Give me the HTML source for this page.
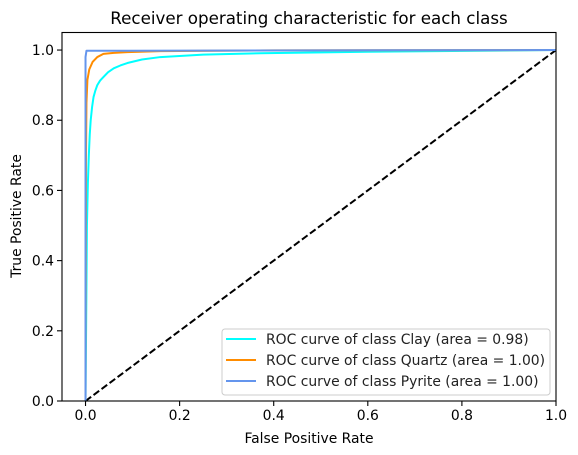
<!DOCTYPE html>
<html><head><meta charset="utf-8"><style>
body{margin:0;background:#fff;}
svg{display:block;font-family:"DejaVu Sans","Liberation Sans",sans-serif;}
</style></head><body>
<svg id="chart" width="578" height="455">
<rect width="578" height="455" fill="#fff"/>
<g id="plot"></g>
<text x="309" y="24" font-size="16.7" text-anchor="middle">Receiver operating characteristic for each class</text>
<text x="309" y="443" font-size="13.9" text-anchor="middle">False Positive Rate</text>
<text x="21" y="216" font-size="13.9" text-anchor="middle" transform="rotate(-90 21 216)">True Positive Rate</text>
</svg>
<script>
const xTicks=[0.0,0.2,0.4,0.6,0.8,1.0];
const yTicks=[0.0,0.2,0.4,0.6,0.8,1.0];
const seriesNames=["ROC curve of class Clay (area = 0.98)","ROC curve of class Quartz (area = 1.00)","ROC curve of class Pyrite (area = 1.00)"];
const seriesColors=["#00ffff","#ff8c00","#6495ed"];
const clayFpr=[0,0.003,0.005,0.007,0.009,0.011,0.014,0.017,0.021,0.025,0.031,0.038,0.048,0.06,0.074,0.089,0.12,0.159,0.25,0.37,0.6,1];
const clayTpr=[0,0.5,0.62,0.7,0.76,0.8,0.838,0.866,0.885,0.9,0.913,0.923,0.937,0.948,0.956,0.963,0.973,0.98,0.987,0.991,0.995,1];
const quartzFpr=[0,0.001,0.002,0.004,0.008,0.015,0.025,0.038,0.06,0.089,0.16,0.4,1];
const quartzTpr=[0,0.7,0.85,0.915,0.945,0.966,0.98,0.989,0.992,0.994,0.997,0.999,1];
const pyriteFpr=[0,0,0.002,0.5,1];
const pyriteTpr=[0,0.98,0.998,0.999,1];
const fprs=[clayFpr,quartzFpr,pyriteFpr], tprs=[clayTpr,quartzTpr,pyriteTpr];
const L=62,R=556,T=32.5,B=401;
const xs=v=>L+(v+0.05)/1.05*(R-L);
const ys=v=>B-(v)/1.05*(B-T);
const NS="http://www.w3.org/2000/svg";
const g=document.getElementById('plot');
function mk(t,a){const e=document.createElementNS(NS,t);for(const k in a)e.setAttribute(k,a[k]);g.appendChild(e);return e;}
let d=mk('line',{x1:xs(0),y1:ys(0),x2:xs(1),y2:ys(1),stroke:'#000','stroke-width':2,'stroke-dasharray':'7,3'});


for(let s=0;s<3;s++){
  const pts=fprs[s].map((f,i)=>xs(f).toFixed(2)+','+ys(tprs[s][i]).toFixed(2)).join(' ');
  const p=mk('polyline',{points:pts,fill:'none',stroke:seriesColors[s],'stroke-width':2,'stroke-linejoin':'round'});
  
  
}
const fr=mk('rect',{x:L,y:T,width:R-L,height:B-T,fill:'none',stroke:'#000','stroke-width':1.1});


xTicks.forEach(v=>{
  const x=xs(v);
  const tk=mk('line',{x1:x,y1:B,x2:x,y2:B+5,stroke:'#000','stroke-width':1.1});
  
  
  const t=mk('text',{x:x,y:B+19,'font-size':13.9,'text-anchor':'middle'});
  t.textContent=v.toFixed(1);
  
  
});
yTicks.forEach(v=>{
  const y=ys(v);
  const tk=mk('line',{x1:L-5,y1:y,x2:L,y2:y,stroke:'#000','stroke-width':1.1});
  
  
  const t=mk('text',{x:L-8,y:y+5,'font-size':13.9,'text-anchor':'end'});
  t.textContent=v.toFixed(1);
  
  
});
const lg=mk('rect',{x:222,y:329,width:328,height:66,rx:3,fill:'#fff','fill-opacity':0.8,stroke:'#ccc'});


seriesNames.forEach((n,i)=>{
  const y=339+i*21;
  const l=mk('line',{x1:226,y1:y,x2:256,y2:y,stroke:seriesColors[i],'stroke-width':2});
  
  
  const t=mk('text',{x:266,y:y+5,'font-size':13.9,fill:'#222'});
  t.textContent=n;
  
  
});
</script>
</body></html>
